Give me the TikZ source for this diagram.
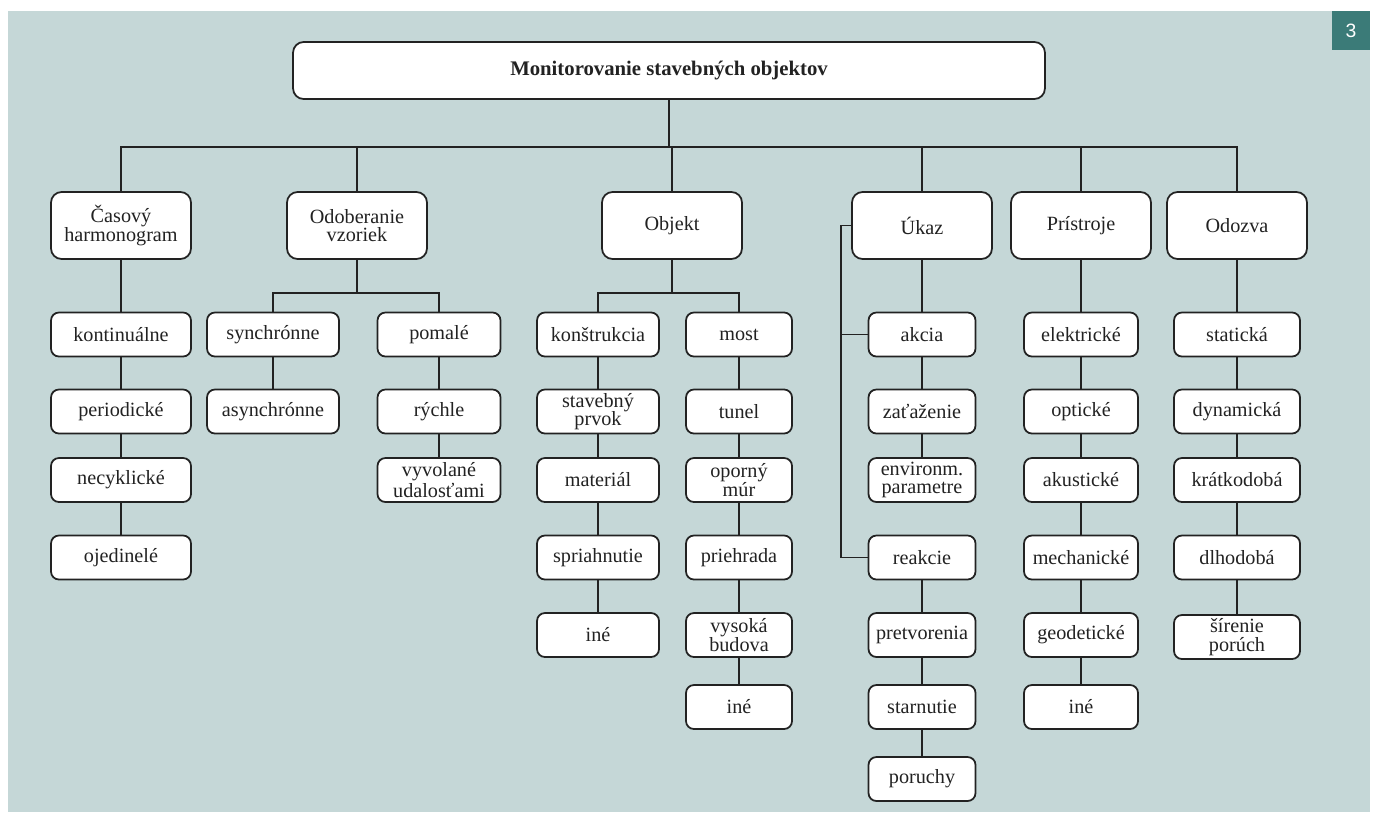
\documentclass[tikz,border=0pt]{standalone}
\usepackage{fontspec}
\setmainfont{Liberation Serif}
\newfontfamily\badgefont{Liberation Sans}

\definecolor{pozadie}{HTML}{C5D7D7}
\definecolor{znacka}{HTML}{3B7B78}
\definecolor{ciara}{HTML}{222222}

\tikzset{
    uzol/.style={draw=ciara, line width=1pt, fill=white, rounded corners=4.5pt, align=center,
        inner sep=0pt, minimum height=0.88cm, text=ciara, font=\fontsize{11.5}{10.5}\selectfont},
    hlavny/.style={uzol, rounded corners=6pt, minimum width=2.8cm, minimum height=1.34cm},
    spoj/.style={draw=ciara, line width=0.9pt}
}

\begin{document}
\begin{tikzpicture}[x=0.02cm, y=-0.02cm]
            \useasboundingbox (0,0) rectangle (1375,812);
            \fill[pozadie] (8,11) rectangle (1370,812);
            \fill[znacka] (1332,11) rectangle (1370,50);
            \node[text=white, font=\badgefont\fontsize{11}{11}\selectfont] (cislo) at (1351,30.5) {3};

            % Uzly
            \node[uzol, rounded corners=6pt, minimum width=15.04cm, minimum height=1.14cm,
                font=\bfseries\fontsize{11.8}{12}\selectfont] (koren) at (669,70.5) {Monitorovanie stavebných objektov};

            \foreach \n/\x/\t in {cas/121/{Časový\\harmonogram}, odob/357/{Odoberanie\\vzoriek}, obj/672/Objekt,
                    ukaz/922/Úkaz, prist/1081/Prístroje, odoz/1237/Odozva} {
                    \node[hlavny] (\n) at (\x,225.5) {\t};
                }

            \foreach \n/\y/\t in {kont/334.5/kontinuálne, per/411.5/periodické, necyk/480/necyklické, ojed/557.5/ojedinelé} {
                    \node[uzol, minimum width=2.8cm] (\n) at (121,\y) {\t};
                }

            \node[uzol, minimum width=2.64cm] (sync) at (273,334.5) {synchrónne};
            \node[uzol, minimum width=2.64cm] (async) at (273,411.5) {asynchrónne};
            \foreach \n/\y/\t in {pomale/334.5/pomalé, rychle/411.5/rýchle, vyvol/480/{vyvolané\\udalosťami}} {
                    \node[uzol, minimum width=2.46cm] (\n) at (439,\y) {\t};
                }

            \foreach \n/\y/\t in {konst/334.5/konštrukcia, stav/411.5/{stavebný\\prvok}, mat/480/materiál,
                    spri/557.5/spriahnutie, ine1/635/iné} {
                    \node[uzol, minimum width=2.44cm] (\n) at (598,\y) {\t};
                }
            \foreach \n/\y/\t in {most/334.5/most, tunel/411.5/tunel, opor/480/{oporný\\múr}, prieh/557.5/priehrada,
                    vys/635/{vysoká\\budova}, ine2/707/iné} {
                    \node[uzol, minimum width=2.12cm] (\n) at (739,\y) {\t};
                }

            \foreach \n/\y/\t in {akcia/334.5/akcia, zataz/411.5/zaťaženie, env/480/{environm.\\parametre},
                    reak/557.5/reakcie, pretv/635/pretvorenia, starn/707/starnutie, por/779/poruchy} {
                    \node[uzol, minimum width=2.14cm] (\n) at (922,\y) {\t};
                }

            \foreach \n/\y/\t in {elek/334.5/elektrické, opt/411.5/optické, akus/480/akustické,
                    mech/557.5/mechanické, geod/635/geodetické, ine3/707/iné} {
                    \node[uzol, minimum width=2.28cm] (\n) at (1081,\y) {\t};
                }

            \foreach \n/\y/\t in {stat/334.5/statická, dyn/411.5/dynamická, krat/480/krátkodobá,
                    dlho/557.5/dlhodobá, sir/637/{šírenie\\porúch}} {
                    \node[uzol, minimum width=2.52cm] (\n) at (1237,\y) {\t};
                }

            % Spojenia
            \coordinate (zbernica) at (0,147);
            \draw[spoj] (koren.south) -- (koren.south |- zbernica);
            \draw[spoj] (cas.north) -- (cas.north |- zbernica) -- (odoz.north |- zbernica) -- (odoz.north);
            \foreach \n in {odob, obj, ukaz, prist} {
                    \draw[spoj] (\n.north) -- (\n.north |- zbernica);
                }

            \coordinate (odobbus) at (357,293);
            \draw[spoj] (odob) -- (odobbus);
            \draw[spoj] (sync.north) |- (odobbus) -| (pomale.north);

            \coordinate (objbus) at (672,293);
            \draw[spoj] (obj) -- (objbus);
            \draw[spoj] (konst.north) |- (objbus) -| (most.north);

            \coordinate (ukazL) at (841,0);
            \draw[spoj] (ukaz.west) -- (ukaz.west -| ukazL) |- (reak.west);
            \draw[spoj] (akcia.west) -- (akcia.west -| ukazL);

            \foreach \a/\b in {cas/kont, kont/per, per/necyk, necyk/ojed, sync/async, pomale/rychle, rychle/vyvol,
                    konst/stav, stav/mat, mat/spri, spri/ine1, most/tunel, tunel/opor, opor/prieh, prieh/vys, vys/ine2,
                    ukaz/akcia, akcia/zataz, zataz/env, reak/pretv, pretv/starn, starn/por,
                    prist/elek, elek/opt, opt/akus, akus/mech, mech/geod, geod/ine3,
                    odoz/stat, stat/dyn, dyn/krat, krat/dlho, dlho/sir} {
                    \draw[spoj] (\a) -- (\b);
                }
        \end{tikzpicture}
\end{document}
